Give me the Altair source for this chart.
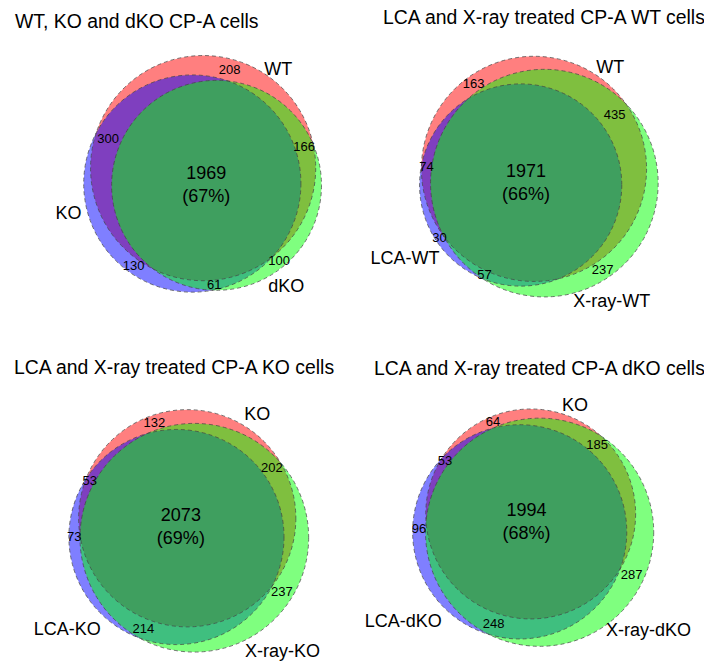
import math
import numpy as np
import pandas as pd
import altair as alt

# ---------------- data ----------------
titles = ["WT, KO and dKO CP-A cells",
          "LCA and X-ray treated CP-A WT cells",
          "LCA and X-ray treated CP-A KO cells",
          "LCA and X-ray treated CP-A dKO cells"]
set_a = ["WT", "WT", "KO", "KO"]
set_b = ["KO", "LCA-WT", "LCA-KO", "LCA-dKO"]
set_c = ["dKO", "X-ray-WT", "X-ray-KO", "X-ray-dKO"]
only_a = [208, 163, 132, 64]
only_b = [130, 30, 73, 96]
only_c = [100, 237, 237, 287]
ab_only = [300, 74, 53, 53]
ac_only = [166, 435, 202, 185]
bc_only = [61, 57, 214, 248]
abc_all = [1969, 1971, 2073, 1994]

# ---------------- layout parameters ----------------
SCALE = 2.19                      # px per sqrt(count)
anchors = [(204, 179), (533, 179), (186, 531), (530, 526)]
rot_deg = [52, 54, 70, 64]        # direction A -> C
title_pos = [(15, 22), (383, 18), (14, 368), (374, 369)]
cat_angle = [[-52.6, 166, 55.5], [-53, 147.5, 60.5], [-55.8, 139.5, 52.3], [-67.8, 142.4, 42.2]]
cat_gap = [[11, 19, 18], [14, 36, 23], [16, 36, 30], [12, 40, 33]]
fills = ["#ff0000", "#0000ff", "#00ff00"]
FONT = "Liberation Sans"


def lens(r1, r2, d):
    if d >= r1 + r2:
        return 0.0
    if d <= abs(r1 - r2):
        return math.pi * min(r1, r2) ** 2
    a1 = math.acos((d * d + r1 * r1 - r2 * r2) / (2 * d * r1))
    a2 = math.acos((d * d + r2 * r2 - r1 * r1) / (2 * d * r2))
    t = (-d + r1 + r2) * (d + r1 - r2) * (d - r1 + r2) * (d + r1 + r2)
    return r1 * r1 * a1 + r2 * r2 * a2 - 0.5 * math.sqrt(max(t, 0))


def solve_d(r1, r2, target):
    lo, hi = abs(r1 - r2), r1 + r2
    for _ in range(80):
        mid = (lo + hi) / 2
        if lens(r1, r2, mid) > target:
            lo = mid
        else:
            hi = mid
    return (lo + hi) / 2


circ_rows, text_rows = [], []
for p in range(4):
    nA = only_a[p] + ab_only[p] + ac_only[p] + abc_all[p]
    nB = only_b[p] + ab_only[p] + bc_only[p] + abc_all[p]
    nC = only_c[p] + ac_only[p] + bc_only[p] + abc_all[p]
    total = only_a[p] + only_b[p] + only_c[p] + ab_only[p] + ac_only[p] + bc_only[p] + abc_all[p]
    unit = math.pi * SCALE ** 2
    rA, rB, rC = (SCALE * math.sqrt(n) for n in (nA, nB, nC))
    dAB = solve_d(rA, rB, unit * (ab_only[p] + abc_all[p]))
    dAC = solve_d(rA, rC, unit * (ac_only[p] + abc_all[p]))
    dBC = solve_d(rB, rC, unit * (bc_only[p] + abc_all[p]))
    xb = (dAB ** 2 - dBC ** 2 + dAC ** 2) / (2 * dAC)
    yb = math.sqrt(max(dAB ** 2 - xb ** 2, 0))
    pts = np.array([[0.0, 0.0], [xb, yb], [dAC, 0.0]])
    th = math.radians(rot_deg[p])
    R = np.array([[math.cos(th), -math.sin(th)], [math.sin(th), math.cos(th)]])
    pts = pts @ R.T
    pts = pts - pts.mean(axis=0) + np.array(anchors[p])
    radii = [rA, rB, rC]
    names = [set_a[p], set_b[p], set_c[p]]
    for i in range(3):
        circ_rows.append(dict(panel=p, i=i, x=pts[i, 0], y=pts[i, 1],
                              size=(2 * radii[i]) ** 2, fill=fills[i]))
        ang = math.radians(cat_angle[p][i])
        dist = radii[i] + cat_gap[p][i]
        text_rows.append(dict(x=pts[i, 0] + dist * math.cos(ang), y=pts[i, 1] + dist * math.sin(ang),
                              label=names[i], fs=18, anchor="center"))
    # region label positions: point farthest from any circle boundary inside each region
    x0 = min(pts[i, 0] - radii[i] for i in range(3))
    x1 = max(pts[i, 0] + radii[i] for i in range(3))
    y0 = min(pts[i, 1] - radii[i] for i in range(3))
    y1 = max(pts[i, 1] + radii[i] for i in range(3))
    gx, gy = np.meshgrid(np.arange(x0, x1, 0.5), np.arange(y0, y1, 0.5))
    ds = [np.hypot(gx - pts[i, 0], gy - pts[i, 1]) - radii[i] for i in range(3)]
    ins = [d < 0 for d in ds]
    m = np.minimum(np.minimum(np.abs(ds[0]), np.abs(ds[1])), np.abs(ds[2]))
    regions = {
        (1, 0, 0): only_a[p], (0, 1, 0): only_b[p], (0, 0, 1): only_c[p],
        (1, 1, 0): ab_only[p], (1, 0, 1): ac_only[p], (0, 1, 1): bc_only[p],
    }
    for key, val in regions.items():
        mask = (ins[0] == bool(key[0])) & (ins[1] == bool(key[1])) & (ins[2] == bool(key[2]))
        mm = np.where(mask, m, -1)
        k = np.unravel_index(np.argmax(mm), mm.shape)
        text_rows.append(dict(x=gx[k], y=gy[k], label=str(val), fs=13, anchor="center"))
    mask = ins[0] & ins[1] & ins[2]
    mm = np.where(mask, m, -1)
    k = np.unravel_index(np.argmax(mm), mm.shape)
    pct = round(100 * abc_all[p] / total)
    text_rows.append(dict(x=gx[k], y=gy[k] - 11.5, label=str(abc_all[p]), fs=18, anchor="center"))
    text_rows.append(dict(x=gx[k], y=gy[k] + 11.5, label=f"({pct}%)", fs=18, anchor="center"))
    text_rows.append(dict(x=title_pos[p][0], y=title_pos[p][1], label=titles[p], fs=19.4, anchor="left"))

circles = pd.DataFrame(circ_rows)
texts = pd.DataFrame(text_rows)

X = alt.X("x:Q", scale=None, axis=None)
Y = alt.Y("y:Q", scale=None, axis=None)

fill_layer = alt.Chart(circles).mark_point(
    shape="circle", filled=True, fillOpacity=0.5, strokeWidth=0
).encode(x=X, y=Y, size=alt.Size("size:Q", scale=None, legend=None),
         color=alt.Color("fill:N", scale=None, legend=None))

outline_layer = alt.Chart(circles).mark_point(
    shape="circle", filled=False, fill="transparent", stroke="#444444", strokeOpacity=0.9,
    opacity=1, strokeWidth=0.8, strokeDash=[4, 3]
).encode(x=X, y=Y, size=alt.Size("size:Q", scale=None, legend=None))

text_center = alt.Chart(texts[texts["anchor"] == "center"]).mark_text(
    font=FONT, color="black", align="center", baseline="middle"
).encode(x=X, y=Y, text="label:N", size=alt.Size("fs:Q", scale=None, legend=None))

text_left = alt.Chart(texts[texts["anchor"] == "left"]).mark_text(
    font=FONT, color="black", align="left", baseline="middle"
).encode(x=X, y=Y, text="label:N", size=alt.Size("fs:Q", scale=None, legend=None))

chart = alt.layer(fill_layer, outline_layer, text_center, text_left).properties(
    width=704, height=662, padding=0, autosize="none", background="white"
).configure_view(stroke=None)

chart.save("out.html", embed_options={"renderer": "svg", "actions": False})
